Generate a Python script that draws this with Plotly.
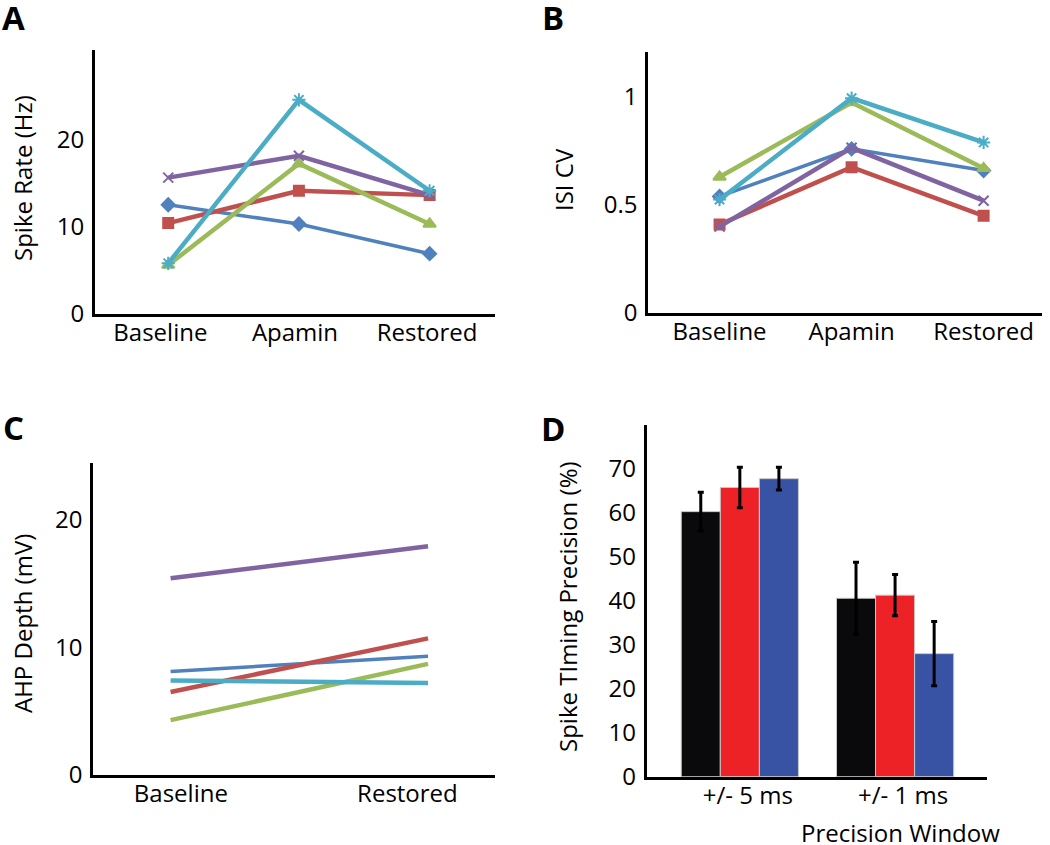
import plotly.graph_objects as go

# categories
conditions = ['Baseline', 'Apamin', 'Restored']
ahp_conditions = ['Baseline', 'Restored']
windows = ['+/- 5 ms', '+/- 1 ms']

# panel A - spike rate (Hz), one list per cell
rate_blue = [12.5, 10.3, 6.9]
rate_red = [10.4, 14.1, 13.6]
rate_green = [5.6, 17.2, 10.3]
rate_purple = [15.6, 18.1, 13.6]
rate_cyan = [5.8, 24.5, 14.1]

# panel B - ISI CV
cv_blue = [0.54, 0.76, 0.66]
cv_red = [0.41, 0.675, 0.45]
cv_green = [0.63, 0.975, 0.67]
cv_purple = [0.40, 0.765, 0.52]
cv_cyan = [0.525, 0.995, 0.79]

# panel C - AHP depth (mV)
ahp_blue = [8.1, 9.3]
ahp_red = [6.5, 10.7]
ahp_green = [4.3, 8.7]
ahp_purple = [15.4, 17.9]
ahp_cyan = [7.4, 7.2]

# panel D - spike timing precision (%)
prec_black = [60.3, 40.6]
prec_black_err = [4.4, 8.2]
prec_red = [65.8, 41.3]
prec_red_err = [4.6, 4.7]
prec_blue = [67.8, 28.0]
prec_blue_err = [2.6, 7.3]

FONT = 'Open Sans'
BLUE, RED, GREEN, PURPLE, CYAN = '#4F81BD', '#C0504D', '#9BBB59', '#8064A2', '#4BACC6'

fig = go.Figure()

line_series = [
    (BLUE, 'diamond', 10, 3.5),
    (RED, 'square', 10, 4.5),
    (GREEN, 'triangle-up', 11, 4.5),
    (PURPLE, 'x-thin-open', 10, 4.5),
    (CYAN, 'asterisk-open', 11, 4.5),
]

for (color, symbol, size, width), ys in zip(line_series, [rate_blue, rate_red, rate_green, rate_purple, rate_cyan]):
    fig.add_trace(go.Scatter(
        x=conditions, y=ys, mode='lines+markers', xaxis='x', yaxis='y',
        line={'color': color, 'width': width},
        marker={'symbol': symbol, 'size': size, 'color': color, 'line': {'color': color, 'width': 2}},
    ))

for (color, symbol, size, width), ys in zip(line_series, [cv_blue, cv_red, cv_green, cv_purple, cv_cyan]):
    fig.add_trace(go.Scatter(
        x=conditions, y=ys, mode='lines+markers', xaxis='x2', yaxis='y2',
        line={'color': color, 'width': width},
        marker={'symbol': symbol, 'size': size, 'color': color, 'line': {'color': color, 'width': 2}},
    ))

for (color, _, _, width), ys in zip(line_series, [ahp_blue, ahp_red, ahp_green, ahp_purple, ahp_cyan]):
    fig.add_trace(go.Scatter(
        x=ahp_conditions, y=ys, mode='lines', xaxis='x3', yaxis='y3',
        line={'color': color, 'width': width},
    ))

for ys, err, color in [(prec_black, prec_black_err, '#0A0A0C'),
                       (prec_red, prec_red_err, '#EC2227'),
                       (prec_blue, prec_blue_err, '#3953A4')]:
    fig.add_trace(go.Bar(
        x=windows, y=ys, xaxis='x4', yaxis='y4',
        marker={'color': color, 'line': {'color': '#C8C8C8', 'width': 1}},
        error_y={'type': 'data', 'array': err, 'color': 'black', 'thickness': 3, 'width': 3},
    ))

axis_style = dict(
    showgrid=False, zeroline=False, showline=True, linecolor='black', linewidth=3,
    ticks='', automargin=False,
    tickfont={'family': FONT, 'size': 24, 'color': 'black'},
)
x_style = dict(axis_style, ticklabelstandoff=-5)
y_style = dict(axis_style, ticklabelstandoff=3)

fig.update_layout(
    width=1050, height=845,
    margin={'l': 0, 'r': 0, 't': 0, 'b': 0},
    paper_bgcolor='white', plot_bgcolor='white',
    showlegend=False,
    barmode='group', bargap=0.245, bargroupgap=0,
    xaxis=dict(x_style, domain=[0.0905, 0.4714], range=[-0.56, 2.5], anchor='y',
               tickvals=[-0.06, 0.97, 1.98], ticktext=conditions),
    yaxis=dict(y_style, domain=[0.6284, 0.9408], range=[0, 30.2], tickvals=[0, 10, 20], anchor='x'),
    xaxis2=dict(x_style, domain=[0.6174, 0.9921], range=[-0.54, 2.44], anchor='y2'),
    yaxis2=dict(y_style, domain=[0.6296, 0.9388], range=[0, 1.21], tickvals=[0, 0.5, 1],
                ticktext=['0', '0.5', '1'], anchor='x2'),
    xaxis3=dict(x_style, domain=[0.0889, 0.4714], range=[-0.3, 1.26], anchor='y3',
                tickvals=[0.04, 0.92], ticktext=ahp_conditions),
    yaxis3=dict(y_style, domain=[0.0828, 0.4517], range=[0, 24.4], tickvals=[0, 10, 20], anchor='x3'),
    xaxis4=dict(x_style, domain=[0.6159, 0.9397], range=[-0.6, 1.59], anchor='y4', ticklabelshift=8),
    yaxis4=dict(y_style, domain=[0.0808, 0.4970], range=[0, 80], tickvals=list(range(0, 80, 10)), anchor='x4'),
)

# panel letters and axis titles
letters = [('A', 13, 17), ('B', 553, 17), ('C', 13, 427), ('D', 553, 428)]
for text, px, py in letters:
    fig.add_annotation(text=f'<b>{text}</b>', x=px / 1050, y=1 - py / 845, xref='paper', yref='paper',
                       xanchor='center', yanchor='middle', showarrow=False,
                       font={'family': FONT, 'size': 33, 'color': 'black'})

titles = [
    ('Spike Rate (Hz)', 22, 178, -90),
    ('ISI CV', 564, 180, -90),
    ('AHP Depth (mV)', 22, 624, -90),
    ('Spike TIming Precision (%)', 567, 607, -90),
    ('Precision Window', 900, 832, 0),
]
for text, px, py, angle in titles:
    fig.add_annotation(text=text, x=px / 1050, y=1 - py / 845, xref='paper', yref='paper',
                       xanchor='center', yanchor='middle', showarrow=False, textangle=angle,
                       font={'family': FONT, 'size': 24, 'color': 'black'})

# drop the page's default body margin so the figure fills the window
fig.write_html('out.html', config={'displayModeBar': False},
               post_script="document.body.style.margin = '0';")
